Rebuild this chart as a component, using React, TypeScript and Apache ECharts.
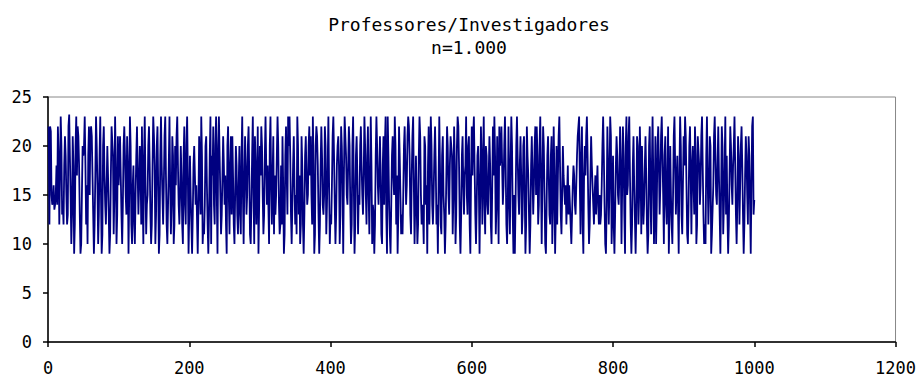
import React, { useEffect, useRef } from "react";
import * as echarts from "echarts";

const titleLines = ["Professores/Investigadores", "n=1.000"];
const xTicks = { min: 0, max: 1200, interval: 200 };
const yTicks = { min: 0, max: 25, interval: 5 };

const block1 = [22, 12, 22, 21.5, 15, 14, 14.5, 16, 13.5, 14, 15, 18, 14, 22, 19, 12, 17, 23, 20, 13, 14, 12, 18, 21, 19, 15, 12, 13, 22, 23.2, 19, 15, 10, 13, 21, 18, 9, 12, 20, 23, 17, 22, 21, 18, 13, 9, 10, 15, 20, 19, 20, 23, 18, 12, 16, 10, 19, 22, 15, 21, 22, 21, 17, 13, 9, 12, 17, 23, 20, 16, 10, 13, 19, 23, 15, 9, 11, 20, 22, 17, 14, 12, 16, 20, 17, 13, 9, 11, 17, 22, 22, 19, 11, 15, 23, 18, 10, 13, 21, 16];
const block2 = [18, 21, 17, 13, 10, 14, 20, 22, 19, 15, 13, 21, 18, 9, 15, 23, 20, 12, 10, 16, 18, 12, 10, 15, 19, 22, 17, 13, 16, 20, 18, 12, 22, 15, 10, 19, 23, 16, 11, 14, 15, 20, 22, 18, 13, 10, 12, 18, 23, 21, 18, 10, 13, 20, 22, 16, 9, 11, 19, 23, 18, 15, 12, 16, 21, 23, 17, 12, 10, 14, 18, 23, 16, 11, 14, 21, 19, 10, 12, 20, 16, 21, 23, 18, 14, 12, 15, 20, 17, 12, 10, 19, 22, 14, 12, 20, 23, 17, 9, 13];
const block3 = [19, 15, 12, 9, 13, 18, 20, 17, 14, 16, 16, 9, 14, 21, 17, 13, 23, 19, 10, 12, 11, 14, 20, 21, 16, 12, 9, 13, 19, 23, 10, 19, 17, 22, 14, 12, 20, 23, 15, 9, 20, 23, 19, 15, 11, 13, 17, 21, 18, 14, 17, 12, 9, 20, 22, 15, 11, 18, 21, 13, 21, 17, 12, 10, 15, 20, 18, 13, 11, 16, 20, 13, 11, 19, 23, 15, 10, 16, 21, 18, 13, 15, 20, 22, 17, 11, 10, 14, 19, 23, 15, 10, 21, 18, 12, 16, 22, 9, 14, 20];
const block4 = [17, 22, 20, 15, 11, 13, 19, 23, 18, 14, 18, 14, 10, 20, 23, 16, 12, 17, 21, 11, 17, 13, 15, 19, 23, 20, 14, 11, 12, 18, 12, 21, 16, 9, 11, 19, 22, 17, 13, 23, 20, 23, 19, 13, 10, 14, 18, 21, 16, 12, 15, 11, 23, 20, 13, 17, 10, 12, 21, 18, 12, 9, 13, 19, 21, 17, 14, 15, 20, 22, 17, 21, 15, 12, 23, 18, 9, 11, 20, 22, 21, 18, 13, 9, 12, 18, 22, 19, 14, 13, 15, 22, 20, 11, 14, 18, 23, 16, 10, 13];
const block5 = [12, 16, 21, 23, 19, 14, 10, 13, 18, 20, 21, 18, 10, 13, 22, 20, 16, 9, 17, 23, 21, 19, 15, 14, 18, 22, 20, 14, 10, 12, 20, 23, 16, 9, 12, 19, 21, 17, 11, 15, 14, 20, 22, 18, 15, 13, 17, 23, 20, 15, 12, 19, 22, 15, 11, 17, 23, 18, 10, 14, 13, 9, 12, 19, 23, 20, 16, 14, 17, 21, 17, 11, 10, 18, 21, 14, 20, 23, 13, 9, 23, 19, 14, 11, 9, 14, 19, 21, 17, 15, 23, 20, 12, 17, 9, 13, 22, 19, 15, 11];
const block6 = [13, 11, 15, 20, 22, 18, 14, 16, 21, 23, 22, 19, 13, 11, 17, 21, 23, 16, 10, 14, 19, 14, 10, 12, 19, 23, 21, 15, 12, 14, 13, 10, 21, 20, 14, 16, 9, 18, 22, 12, 17, 23, 20, 14, 12, 15, 19, 22, 18, 12, 14, 9, 16, 23, 18, 12, 11, 19, 21, 15, 13, 9, 12, 17, 22, 20, 15, 13, 18, 21, 21, 19, 11, 15, 22, 18, 10, 13, 20, 23, 22, 18, 12, 9, 13, 19, 21, 16, 13, 17, 18, 23, 15, 13, 20, 21, 12, 9, 17, 22];
const block7 = [17, 21, 23, 18, 13, 10, 14, 19, 20, 16, 9, 15, 22, 18, 12, 19, 23, 14, 11, 20, 19, 14, 13, 17, 21, 18, 12, 10, 16, 22, 17, 23, 19, 11, 14, 21, 16, 10, 22, 18, 19, 22, 18, 14, 16, 20, 23, 18, 12, 10, 14, 22, 16, 11, 18, 23, 20, 13, 9, 15, 9, 14, 20, 23, 19, 15, 13, 18, 21, 17, 11, 13, 20, 21, 15, 9, 12, 22, 19, 17, 13, 9, 12, 18, 21, 17, 13, 16, 20, 22, 15, 22, 19, 12, 14, 20, 23, 17, 10, 16];
const block8 = [22, 20, 15, 10, 9, 14, 19, 21, 17, 13, 12, 19, 21, 10, 14, 22, 17, 9, 13, 20, 12, 17, 21, 23, 18, 13, 11, 15, 20, 17, 17, 14, 16, 12, 15, 18, 13, 16, 14, 12, 10, 13, 16, 18, 17, 14, 13, 16, 19, 21, 21, 23, 16, 11, 19, 22, 12, 9, 17, 20, 17, 21, 23, 19, 14, 10, 12, 17, 21, 18, 16, 14, 12, 15, 17, 13, 16, 18, 14, 12, 15, 12, 13, 16, 20, 23, 19, 14, 10, 9, 14, 22, 18, 12, 16, 23, 21, 10, 13, 19];
const block9 = [12, 9, 13, 18, 21, 19, 15, 14, 17, 22, 18, 10, 16, 22, 19, 13, 9, 20, 23, 15, 16, 21, 23, 17, 12, 9, 12, 18, 21, 16, 16, 9, 13, 21, 20, 12, 15, 22, 18, 11, 20, 16, 12, 14, 18, 21, 17, 12, 9, 11, 20, 22, 15, 11, 18, 23, 17, 10, 14, 21, 10, 14, 20, 22, 18, 13, 16, 21, 23, 19, 15, 10, 19, 21, 14, 12, 17, 22, 9, 13, 20, 15, 12, 10, 15, 21, 23, 18, 13, 16, 19, 14, 9, 17, 23, 20, 13, 11, 16, 21];
const block10 = [18, 23, 21, 16, 11, 10, 14, 20, 22, 17, 11, 18, 20, 16, 13, 22, 19, 10, 12, 21, 21, 18, 14, 16, 21, 23, 18, 13, 10, 12, 10, 19, 23, 17, 12, 15, 21, 20, 9, 11, 11, 16, 21, 23, 19, 15, 14, 18, 22, 17, 17, 9, 15, 22, 20, 11, 14, 18, 23, 13, 19, 13, 9, 12, 17, 22, 20, 16, 14, 18, 20, 23, 18, 13, 10, 14, 21, 19, 12, 16, 20, 22, 18, 13, 9, 12, 17, 21, 19, 15, 12, 21, 19, 14, 9, 16, 22, 23, 13, 14.5];

const values = [...block1, ...block2, ...block3, ...block4, ...block5, ...block6, ...block7, ...block8, ...block9, ...block10];

const FONT = "'DejaVu Sans Mono', 'Liberation Mono', monospace";

export default function App() {
  const ref = useRef<HTMLDivElement>(null);
  useEffect(() => {
    if (!ref.current) return;
    const chart = echarts.init(ref.current, null, { renderer: "svg" });
    chart.setOption({
      animation: false,
      backgroundColor: "#ffffff",
      title: {
        text: titleLines.join("\n"),
        left: 464,
        textAlign: "center",
        top: 8,
        textStyle: {
          fontFamily: FONT,
          fontSize: 18,
          fontWeight: "normal",
          color: "#000",
          lineHeight: 23,
        },
      },
      grid: {
        left: 48,
        right: 22,
        top: 97,
        bottom: 36,
        show: true,
        borderColor: "#888",
        borderWidth: 1,
        backgroundColor: "transparent",
      },
      xAxis: {
        type: "value",
        min: xTicks.min,
        max: xTicks.max,
        interval: xTicks.interval,
        axisLine: { show: true, lineStyle: { color: "#000", width: 1.5 } },
        axisTick: { show: true, length: 5, lineStyle: { color: "#000", width: 1.5 } },
        splitLine: { show: false },
        axisLabel: {
          fontFamily: FONT,
          fontSize: 17,
          color: "#000",
          margin: 17,
          formatter: (v: number) => String(v),
        },
      },
      yAxis: {
        type: "value",
        min: yTicks.min,
        max: yTicks.max,
        interval: yTicks.interval,
        axisLine: { show: true, lineStyle: { color: "#000", width: 1.5 } },
        axisTick: { show: true, length: 5, lineStyle: { color: "#000", width: 1.5 } },
        splitLine: { show: false },
        axisLabel: {
          fontFamily: FONT,
          fontSize: 17,
          color: "#000",
          margin: 16,
          formatter: (v: number) => String(v),
        },
      },
      series: [
        {
          type: "line",
          data: values.map((v, i) => [i + 1, v]),
          showSymbol: false,
          symbol: "none",
          lineStyle: { color: "#000080", width: 1.8 },
          silent: true,
        },
      ],
    });
    return () => chart.dispose();
  }, []);
  return (
    <div
      ref={ref}
      style={{ position: "fixed", left: 0, top: 0, width: 919, height: 378, background: "#fff" }}
    />
  );
}
